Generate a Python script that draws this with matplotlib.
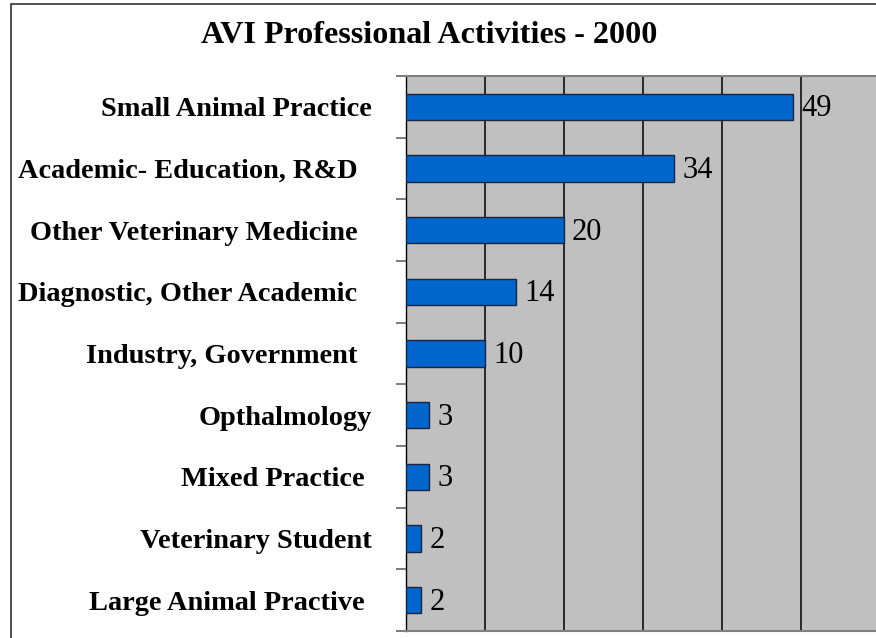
import matplotlib
matplotlib.use("Agg")
import matplotlib.pyplot as plt
from matplotlib.patches import Rectangle

# data (top to bottom as shown)
categories = [
    "Small Animal Practice",
    "Academic- Education, R&D  ",
    "Other Veterinary Medicine  ",
    "Diagnostic, Other Academic  ",
    "Industry, Government  ",
    "Opthalmology",
    "Mixed Practice ",
    "Veterinary Student",
    "Large Animal Practive ",
]
values = [49, 34, 20, 14, 10, 3, 3, 2, 2]
title = "AVI Professional Activities - 2000"

plt.rcParams["font.family"] = ["Liberation Serif", "DejaVu Serif"]

W, H = 876, 638
fig = plt.figure(figsize=(W / 100, H / 100), dpi=100)

# outer chart border (Excel chart area)
fig.patches.append(Rectangle((11 / W, -0.05), 1.2, (H - 4) / H + 0.05,
                             transform=fig.transFigure, fill=False,
                             edgecolor="#333333", linewidth=1.2))

ax = fig.add_axes([405.5 / W, 7 / H, (880 - 405.5) / W, 555 / H])
ax.set_facecolor("#C0C0C0")

pos = list(range(len(categories)))
ax.barh(pos, values, height=0.43, color="#0066CC",
        edgecolor="#1a2440", linewidth=1.0, zorder=3)

for p, v in zip(pos, values):
    ax.annotate(str(v), (v, p), xytext=(6, 1), textcoords="offset points",
                va="center_baseline", ha="left", fontsize=22, color="black")

ax.set_xlim(0, 60)
ax.set_ylim(len(categories) - 0.5, -0.5)

# vertical gridlines
ax.set_xticks([10, 20, 30, 40, 50])
ax.xaxis.grid(True, color="black", linewidth=1.1, zorder=1)
ax.tick_params(axis="x", length=0, labelbottom=False)

# category labels, ticks between categories
ax.set_yticks(pos)
ax.set_yticklabels(categories, fontsize=20.4, fontweight="bold")
ax.tick_params(axis="y", which="major", length=0, pad=24.5)
ax.set_yticks([p - 0.5 for p in pos] + [len(pos) - 0.5], minor=True)
ax.tick_params(axis="y", which="minor", length=7.2, width=1.2, color="#666666")

ax.spines["left"].set_color("black")
ax.spines["left"].set_linewidth(1.0)
ax.spines["top"].set_color("#808080")
ax.spines["top"].set_linewidth(1.5)
ax.spines["bottom"].set_color("#808080")
ax.spines["bottom"].set_linewidth(1.5)
ax.spines["right"].set_visible(False)

fig.text(429 / W, (H - 43) / H, title, ha="center", va="baseline",
         fontsize=23.1, fontweight="bold")

fig.savefig("out.png", dpi=100)
